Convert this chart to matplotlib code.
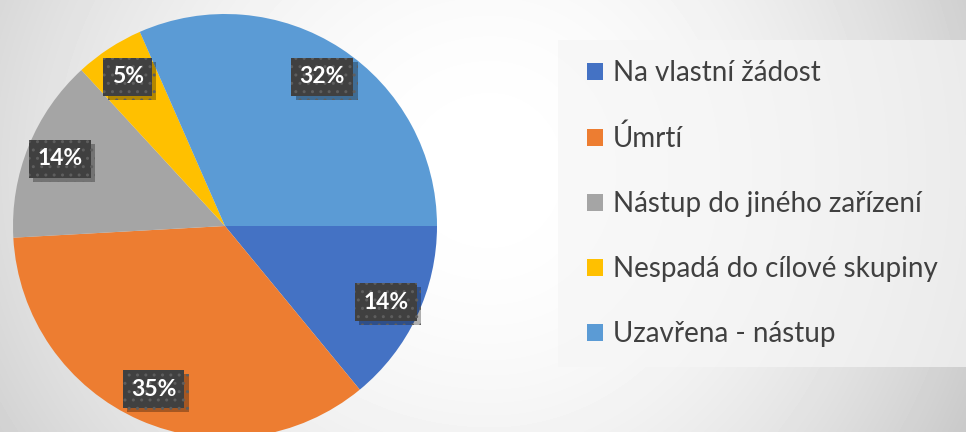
import numpy as np
import matplotlib
matplotlib.use("Agg")
import matplotlib.pyplot as plt
import matplotlib.patheffects as pe
from matplotlib.patches import Rectangle

LABELS = ["Na vlastní žádost", "Úmrtí", "Nástup do jiného zařízení",
          "Nespadá do cílové skupiny", "Uzavřena - nástup"]
COUNTS = [8, 20, 8, 3, 18]
COLORS = ["#4472C4", "#ED7D31", "#A5A5A5", "#FFC000", "#5B9BD5"]

INK = "#404040"
plt.rcParams["font.family"] = ["Lato", "DejaVu Sans"]

W, H = 966, 432
fig = plt.figure(figsize=(W / 100, H / 100), dpi=100)

# soft grey background, brighter in the middle
bg = fig.add_axes([0, 0, 1, 1])
bg.axis("off")
yy, xx = np.mgrid[0:H, 0:W]
cx, cy = 490, 170
dx = xx - cx
sx = np.where(dx > 0, 450, 520)
r2 = (dx / sx) ** 2 + ((yy - cy) / 480) ** 2
grad = np.clip(1 - 0.15 * r2, 0.7, 1)
bg.imshow(grad, cmap="gray", vmin=0, vmax=1, aspect="auto",
          extent=(0, 1, 0, 1), interpolation="bilinear")
bg.set_xlim(0, 1)
bg.set_ylim(0, 1)

# legend backdrop
fig.patches.append(Rectangle((558 / W, 1 - 367 / H), (W - 558) / W + 0.01,
                             (367 - 40) / H, transform=fig.transFigure,
                             facecolor="#f6f6f6", alpha=0.7, lw=0))

ax = fig.add_axes([13 / W, (206 - 212) / H, 424 / W, 424 / H])
wedges, texts, autotexts = ax.pie(
    COUNTS, colors=COLORS, startangle=0, counterclock=False,
    autopct=lambda p: f"{p:.0f}%", pctdistance=0.84,
    wedgeprops=dict(linewidth=0),
    textprops=dict(color="white", fontsize=16.5, fontweight="bold"))
ax.set_xlim(-1, 1)
ax.set_ylim(-1, 1)

for at in autotexts:
    at.set_bbox(dict(boxstyle="square,pad=0.36", facecolor="#404040",
                     edgecolor="#5e5e5e", linewidth=0, hatch=".."))
    at.get_bbox_patch().set_path_effects(
        [pe.SimplePatchShadow(offset=(3, -3), shadow_rgbFace="black", alpha=0.3),
         pe.Normal()])

fig.legend(wedges, LABELS, loc="upper left",
           bbox_to_anchor=(587 / W, 1 - 60 / H), frameon=False,
           fontsize=20, labelcolor=INK, handlelength=0.58, handleheight=0.58,
           handletextpad=0.36, labelspacing=1.40, borderpad=0, borderaxespad=0)

fig.savefig("out.png", dpi=100)
